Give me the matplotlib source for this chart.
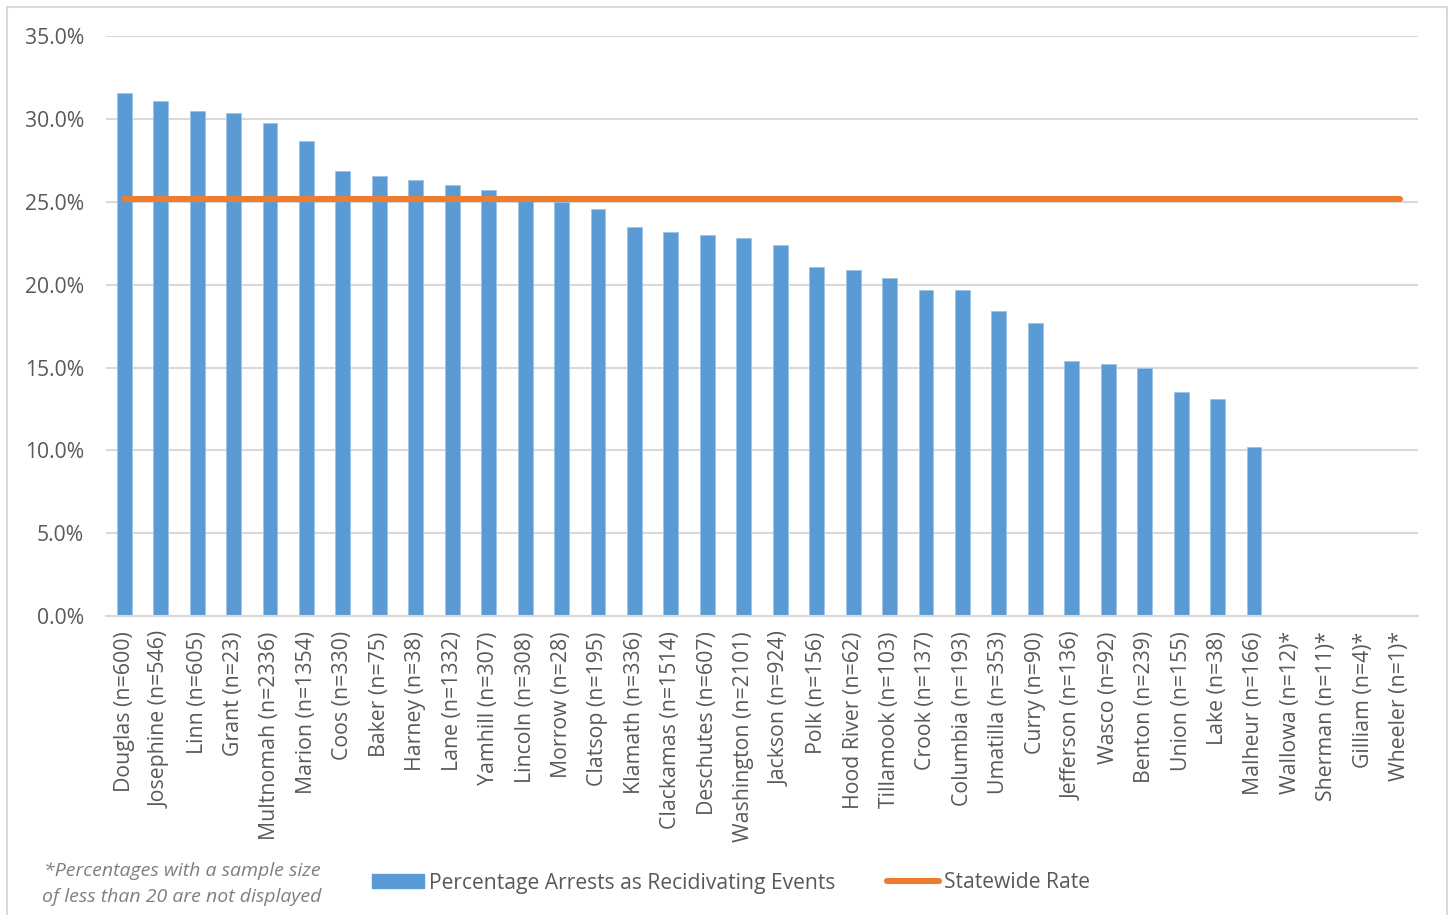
import numpy as np
import matplotlib
matplotlib.use("Agg")
import matplotlib.pyplot as plt
from matplotlib.patches import Rectangle, Patch
from matplotlib.lines import Line2D
from matplotlib.ticker import PercentFormatter

plt.rcParams['font.family'] = ['Open Sans', 'DejaVu Sans']

# County labels (sample size in parentheses); starred counties are not displayed
counties = [
    "Douglas (n=600)", "Josephine (n=546)", "Linn (n=605)", "Grant (n=23)",
    "Multnomah (n=2336)", "Marion (n=1354)", "Coos (n=330)", "Baker (n=75)",
    "Harney (n=38)", "Lane (n=1332)", "Yamhill (n=307)", "Lincoln (n=308)",
    "Morrow (n=28)", "Clatsop (n=195)", "Klamath (n=336)", "Clackamas (n=1514)",
    "Deschutes (n=607)", "Washington (n=2101)", "Jackson (n=924)", "Polk (n=156)",
    "Hood River (n=62)", "Tillamook (n=103)", "Crook (n=137)", "Columbia (n=193)",
    "Umatilla (n=353)", "Curry (n=90)", "Jefferson (n=136)", "Wasco (n=92)",
    "Benton (n=239)", "Union (n=155)", "Lake (n=38)", "Malheur (n=166)",
    "Wallowa (n=12)*", "Sherman (n=11)*", "Gilliam (n=4)*", "Wheeler (n=1)*",
]

# Percentage of arrests that were recidivating events (None = not displayed)
recid_pct = [
    31.6, 31.1, 30.5, 30.4, 29.8, 28.7, 26.9, 26.6,
    26.3, 26.0, 25.7, 25.1, 25.0, 24.6, 23.5, 23.2,
    23.0, 22.8, 22.4, 21.1, 20.9, 20.4, 19.7, 19.7,
    18.4, 17.7, 15.4, 15.2, 15.0, 13.5, 13.1, 10.2,
    None, None, None, None,
]

statewide_rate = 25.2

yticks = [0, 5, 10, 15, 20, 25, 30, 35]

bar_color = "#5B9BD5"
line_color = "#ED7D31"
grid_color = "#D9D9D9"
text_color = "#595959"

vals = np.array([np.nan if v is None else v for v in recid_pct], dtype=float)
x = np.arange(len(counties))

fig = plt.figure(figsize=(14.5, 9.15), dpi=100)
ax = fig.add_axes([106 / 1450, 1 - 616 / 915, (1418 - 106) / 1450, (616 - 36.4) / 915])

# Outer chart frame
fig.patches.append(Rectangle((7 / 1450, -0.05), (1447 - 7) / 1450, 1.05 - 7 / 915,
                             transform=fig.transFigure, fill=False,
                             edgecolor=grid_color, linewidth=1.5, zorder=0))

ax.bar(x, np.nan_to_num(vals, nan=0.0), width=0.41, color=bar_color,
       edgecolor="#9DC3E6", linewidth=0.6, zorder=2)
ax.plot([x[0], x[-1]], [statewide_rate, statewide_rate], color=line_color,
        linewidth=4.4, solid_capstyle="round", zorder=3)

ax.set_xlim(-0.5, len(counties) - 0.5)
ax.set_ylim(0, 35)
ax.set_yticks(yticks)
ax.yaxis.set_major_formatter(PercentFormatter(decimals=1))
ax.set_xticks(x)
ax.set_xticklabels(counties, rotation=90, ha="center", va="top")

ax.grid(axis="y", color=grid_color, linewidth=1.5, zorder=0)
ax.set_axisbelow(True)
for side in ["top", "right", "left"]:
    ax.spines[side].set_visible(False)
ax.spines["bottom"].set_color(grid_color)
ax.spines["bottom"].set_linewidth(1.5)

ax.tick_params(axis="both", length=0, labelcolor=text_color)
ax.tick_params(axis="y", pad=16, labelsize=15.2)
ax.tick_params(axis="x", pad=11, labelsize=15.3)

handles = [
    Patch(facecolor=bar_color, edgecolor=bar_color),
    Line2D([0], [0], color=line_color, linewidth=4.4, solid_capstyle="round"),
]
labels = ["Percentage Arrests as Recidivating Events", "Statewide Rate"]
fig.legend(handles, labels, loc="center", ncol=2, frameon=False,
           bbox_to_anchor=(731 / 1450, 1 - 883 / 915), fontsize=15.2,
           labelcolor=text_color, handlelength=2.45, handleheight=0.65,
           handletextpad=0.23, columnspacing=2.45, borderpad=0)

fig.text(182 / 1450, 1 - 884 / 915,
         "*Percentages with a sample size\nof less than 20 are not displayed",
         ha="center", va="center", style="italic", fontsize=14,
         color="#7F7F7F", linespacing=1.5)

fig.savefig("out.png", dpi=100)
